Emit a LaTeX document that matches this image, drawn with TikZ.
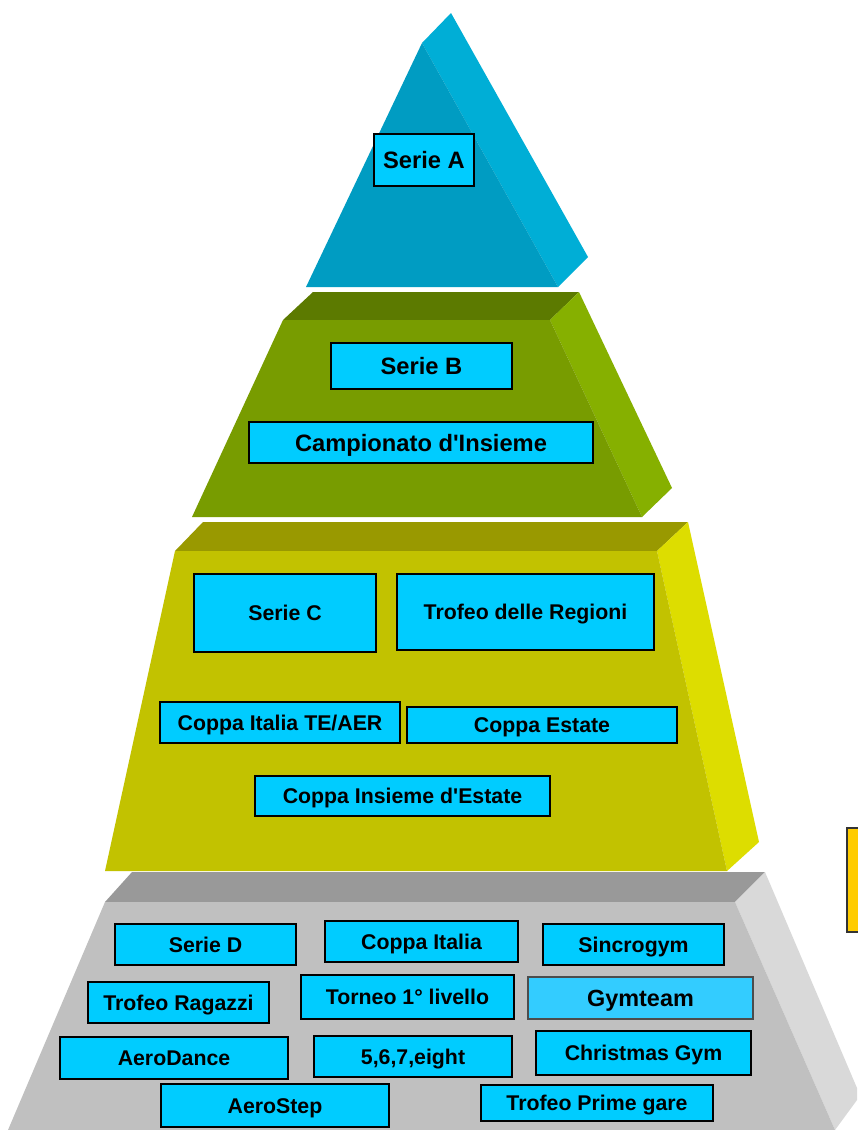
\documentclass[tikz,border=0pt]{standalone}
\usepackage{fontspec}
\setmainfont{Liberation Sans}[Ligatures=TeXOff]
\begin{document}
\begin{tikzpicture}[x=1pt,y=-1pt,
  lbl/.style={draw=black, fill=boxblue, line width=1.4pt, inner sep=0pt,
    font=\bfseries\fontsize{21.3}{24}\selectfont, text height=15.3pt, text depth=0pt},
  big/.style={font=\bfseries\fontsize{23.7}{26}\selectfont, text height=17pt},
  face/.style={draw=none}]
\definecolor{boxblue}{HTML}{00CCFF}
\definecolor{boxblueB}{HTML}{33CCFF}
\definecolor{aFront}{HTML}{009CC2}
\definecolor{aSide}{HTML}{00AED6}
\definecolor{bTop}{HTML}{5C7A00}
\definecolor{bFront}{HTML}{789C00}
\definecolor{bSide}{HTML}{86B000}
\definecolor{cTop}{HTML}{999900}
\definecolor{cFront}{HTML}{C2C200}
\definecolor{cSide}{HTML}{DDDD00}
\definecolor{dTop}{HTML}{999999}
\definecolor{dFront}{HTML}{C0C0C0}
\definecolor{dSide}{HTML}{D9D9D9}
\definecolor{goldbox}{HTML}{FFCC00}
\useasboundingbox (0,0) rectangle (857,1130);
\fill[white] (0,0) rectangle (857,1130);

% Tier A
\fill[aSide] (422,43) -- (451,13) -- (588,257) -- (558,287) -- cycle;
\fill[aFront] (306,287) -- (422,43) -- (558,287) -- cycle;

% Tier B
\fill[bTop] (313,292) -- (579,292) -- (550,320) -- (283,320) -- cycle;
\fill[bSide] (550,320) -- (579,292) -- (672,488) -- (642,517) -- cycle;
\fill[bFront] (283,320) -- (550,320) -- (642,517) -- (192,517) -- cycle;

% Tier C
\fill[cTop] (203,522) -- (688,522) -- (657,551) -- (175,551) -- cycle;
\fill[cSide] (657,551) -- (688,522) -- (759,842) -- (727,871) -- cycle;
\fill[cFront] (175,551) -- (657,551) -- (727,871) -- (105,871) -- cycle;

% Tier D
\fill[dTop] (132,872) -- (765,872) -- (735,902) -- (105,902) -- cycle;
\fill[dSide] (735,902) -- (765,872) -- (857,1088) -- (857,1100) -- (835,1130) -- cycle;
\fill[dFront] (105,902) -- (735,902) -- (835,1130) -- (8,1130) -- cycle;

% side gold box
\draw[fill=goldbox, draw=black!80, line width=1.4pt] (847,828) rectangle (870,932);

% labels
\node[lbl,big,minimum width=100pt,minimum height=52pt] (sa) at (424,160) {Serie A};
\node[lbl,big,minimum width=181pt,minimum height=46pt] (sb) at (421.5,366) {Serie B};
\node[lbl,big,minimum width=344pt,minimum height=41pt] (ci) at (421,442.5) {Campionato d'Insieme};

\node[lbl,minimum width=182pt,minimum height=78pt] (sc) at (285,613) {Serie C};
\node[lbl,minimum width=257pt,minimum height=76pt] (tr) at (525.5,612) {Trofeo delle Regioni};
\node[lbl,minimum width=240pt,minimum height=41pt] (cite) at (280,722.5) {Coppa Italia TE/AER};
\node[lbl,minimum width=270pt,minimum height=36pt] (ce) at (542,725) {Coppa Estate};
\node[lbl,minimum width=295pt,minimum height=40pt] (cie) at (402.5,796) {Coppa Insieme d'Estate};

\node[lbl,minimum width=181pt,minimum height=41pt] (sd) at (205.5,944.5) {Serie D};
\node[lbl,minimum width=193pt,minimum height=41pt] (cit) at (421.5,941.5) {Coppa Italia};
\node[lbl,minimum width=181pt,minimum height=41pt] (sg) at (633.5,944.5) {Sincrogym};
\node[lbl,minimum width=181pt,minimum height=41pt] (trg) at (178.5,1002.5) {Trofeo Ragazzi};
\node[lbl,minimum width=213pt,minimum height=44pt] (tl) at (407.5,997) {Torneo 1° livello};
\node[lbl,fill=boxblueB,draw=black!70,minimum width=225pt,minimum height=42pt,
  font=\bfseries\fontsize{23.4}{26}\selectfont, text height=16.8pt] (gt) at (640.5,998) {Gymteam};
\node[lbl,minimum width=228pt,minimum height=42pt] (ad) at (174,1058) {AeroDance};
\node[lbl,minimum width=198pt,minimum height=41pt] (e8) at (413,1056.5) {5,6,7,eight};
\node[lbl,minimum width=215pt,minimum height=44pt] (cg) at (643.5,1053) {Christmas Gym};
\node[lbl,minimum width=228pt,minimum height=43pt] (as) at (275,1105.5) {AeroStep};
\node[lbl,minimum width=232pt,minimum height=36pt] (tpg) at (597,1103) {Trofeo Prime gare};
\end{tikzpicture}
\end{document}
